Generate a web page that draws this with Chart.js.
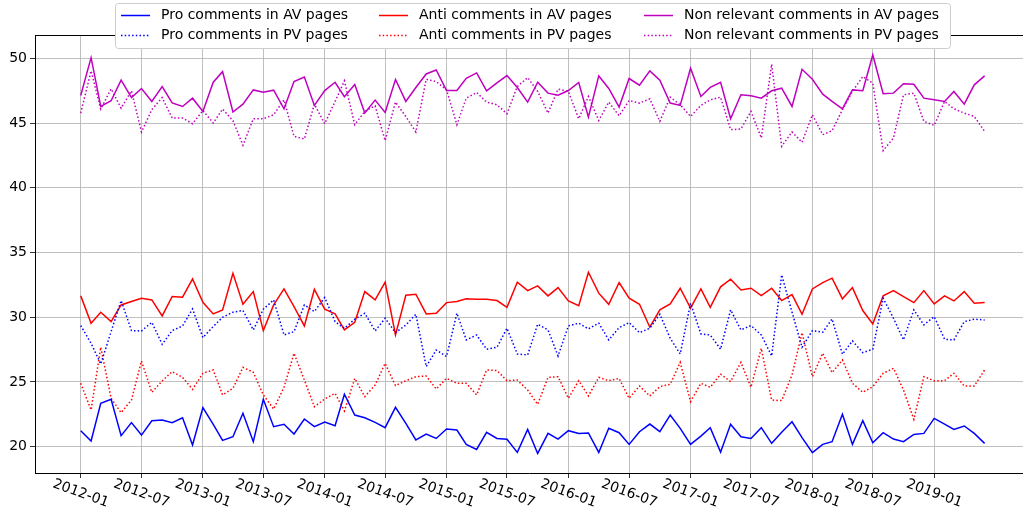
<!DOCTYPE html>
<html>
<head>
<meta charset="utf-8">
<script src="https://cdn.jsdelivr.net/npm/chart.js@4.4.1/dist/chart.umd.min.js"></script>
<style>
  html, body { margin: 0; padding: 0; background: #fff; }
  canvas { display: block; }
</style>
</head>
<body>
<canvas id="c" width="1023" height="518"></canvas>
<script>
// ---- categories ----
const startMonth = '2012-01';
const endMonth = '2019-06';
const xTickLabels = ['2012-01','2012-07','2013-01','2013-07','2014-01','2014-07','2015-01','2015-07',
  '2016-01','2016-07','2017-01','2017-07','2018-01','2018-07','2019-01'];
const yTickValues = [20, 25, 30, 35, 40, 45, 50];

// ---- series ----
const proAV = [21.24,20.44,23.35,23.66,20.85,21.86,20.9,22.01,22.06,21.86,22.24,20.13,23.02,21.73,20.49,20.77,22.58,20.39,23.66,21.55,
  21.73,20.98,22.14,21.55,21.91,21.62,24.05,22.45,22.24,21.88,21.47,23.04,21.8,20.52,20.98,20.64,21.37,21.29,20.18,19.79,
  21.11,20.64,20.57,19.56,21.34,19.48,21.03,20.59,21.24,21.03,21.06,19.56,21.42,21.08,20.18,21.16,21.75,21.16,22.45,21.42,
  20.18,20.82,21.47,19.58,21.73,20.77,20.64,21.47,20.26,21.11,21.93,20.7,19.54,20.18,20.39,22.5,20.18,22.01,20.31,21.08,
  20.59,20.39,20.95,21.03,22.19,21.75,21.34,21.6,21.03,20.26];
const proPV = [29.36,27.99,26.39,28.89,31.29,28.97,28.94,29.61,27.91,28.97,29.33,30.64,28.43,29.28,30.0,30.39,30.52,29.02,30.62,31.34,
  28.63,28.89,30.95,30.44,31.52,29.66,29.15,29.85,30.31,28.94,29.92,28.81,29.4,30.23,26.19,27.47,26.96,30.31,28.25,28.63,
  27.53,27.68,29.15,27.16,27.09,29.46,29.02,27.01,29.33,29.54,29.1,29.54,28.25,29.2,29.59,28.81,29.15,30.23,28.38,27.16,
  31.08,28.71,28.63,27.53,30.57,29.02,29.36,28.63,27.01,33.27,30.4,27.68,28.97,28.84,29.87,27.14,28.17,27.27,27.53,31.47,
  29.92,28.25,30.57,29.41,30.05,28.3,28.25,29.66,29.85,29.79];
const antiAV = [31.65,29.54,30.39,29.66,30.95,31.21,31.47,31.34,30.1,31.6,31.55,32.96,31.16,30.26,30.57,33.4,31.0,31.98,28.97,30.95,
  32.19,30.82,29.33,32.16,30.62,30.26,29.02,29.61,31.98,31.34,32.71,28.63,31.7,31.78,30.26,30.31,31.13,31.21,31.42,31.39,
  31.39,31.29,30.77,32.71,32.06,32.42,31.65,32.29,31.26,30.9,33.48,31.86,31.0,32.68,31.47,31.0,29.23,30.57,31.03,32.24,
  30.7,32.19,30.77,32.35,32.94,32.11,32.24,31.68,32.24,31.29,31.75,30.23,32.19,32.68,33.02,31.42,32.29,30.52,29.48,31.65,
  32.06,31.6,31.13,32.06,31.03,31.65,31.26,31.98,31.08,31.13];
const antiPV = [24.9,22.84,27.68,23.74,22.63,23.61,26.62,24.2,25.08,25.8,25.36,24.43,25.67,25.93,24.0,24.51,26.13,25.75,24.0,22.91,
  24.59,27.22,25.15,23.09,23.69,24.12,22.76,25.28,23.87,24.77,26.44,24.72,25.1,25.41,25.46,24.46,25.28,24.9,24.9,24.0,
  25.93,25.88,25.1,25.15,24.38,23.27,25.36,25.41,23.74,25.1,23.92,25.36,25.1,25.28,23.74,24.69,23.92,24.64,24.82,26.52,
  23.48,24.9,24.59,25.6,25.03,26.52,24.59,27.6,23.61,23.56,25.54,28.81,25.41,27.22,25.72,26.7,24.9,24.2,24.64,25.67,
  26.06,24.38,22.11,25.41,25.1,25.1,25.67,24.69,24.69,25.93];
const nonAV = [47.13,50.05,46.28,46.72,48.31,46.97,47.67,46.67,47.82,46.56,46.28,46.92,45.9,48.15,48.97,45.85,46.46,47.56,47.38,47.54,
  46.1,48.2,48.56,46.36,47.51,48.15,47.03,47.97,45.77,46.77,45.82,48.36,46.67,47.74,48.79,49.1,47.51,47.51,48.46,48.87,
  47.49,48.1,48.67,47.74,46.62,48.15,47.31,47.15,47.51,48.13,45.46,48.64,47.67,46.23,48.44,47.92,49.03,48.31,46.54,46.36,
  49.23,47.05,47.75,48.14,45.33,47.18,47.1,46.92,47.49,47.69,46.28,49.15,48.38,47.23,46.67,46.1,47.56,47.49,50.26,47.26,
  47.31,48.03,48.0,46.92,46.79,46.67,47.44,46.46,47.95,48.64];
const nonPV = [45.77,49.03,46.08,47.64,46.15,47.49,44.31,46.03,46.97,45.38,45.38,44.95,45.97,45.0,46.08,45.18,43.28,45.33,45.33,45.64,
  46.79,43.97,43.77,46.46,44.95,46.67,48.26,44.87,45.9,46.33,43.64,46.62,45.5,44.31,48.38,48.2,47.56,44.87,46.92,47.36,
  46.62,46.41,45.72,47.82,48.51,47.44,45.77,47.62,47.44,45.33,47.05,45.2,46.62,45.56,46.74,46.54,46.87,45.13,47.0,46.41,
  45.51,46.36,46.79,47.0,44.49,44.54,45.9,43.85,49.54,43.2,44.31,43.51,45.64,44.1,44.41,46.03,47.44,48.59,48.08,42.87,
  43.85,47.18,47.31,45.13,44.82,46.67,46.1,45.77,45.51,44.36];

// ---- helpers ----
function monthList(a, b) {
  const out = [];
  let [y, m] = a.split('-').map(Number);
  const [ye, me] = b.split('-').map(Number);
  while (y < ye || (y === ye && m <= me)) {
    out.push(y + '-' + String(m).padStart(2, '0'));
    m++; if (m > 12) { m = 1; y++; }
  }
  return out;
}
const months = monthList(startMonth, endMonth);
const base = Date.UTC(2012, 0, 1);
function dayOf(s) {
  const [y, m] = s.split('-').map(Number);
  return (Date.UTC(y, m - 1, 1) - base) / 86400000;
}
function pts(arr) { return months.map((m, i) => ({ x: dayOf(m), y: arr[i] })); }

const FONT = '"DejaVu Sans", "Liberation Sans", sans-serif';
const BLUE = '#0000ff', RED = '#ff0000', MAG = '#bf00bf';
const DOT = [1.5, 2.2];

const datasets = [
  { label: 'Pro comments in AV pages', data: pts(proAV), borderColor: BLUE, borderDash: [] },
  { label: 'Pro comments in PV pages', data: pts(proPV), borderColor: BLUE, borderDash: DOT },
  { label: 'Anti comments in AV pages', data: pts(antiAV), borderColor: RED, borderDash: [] },
  { label: 'Anti comments in PV pages', data: pts(antiPV), borderColor: RED, borderDash: DOT },
  { label: 'Non relevant comments in AV pages', data: pts(nonAV), borderColor: MAG, borderDash: [] },
  { label: 'Non relevant comments in PV pages', data: pts(nonPV), borderColor: MAG, borderDash: DOT },
].map(d => Object.assign(d, { borderWidth: 1.5, pointRadius: 0, tension: 0, fill: false }));

const decor = {
  id: 'decor',
  afterDatasetsDraw(chart) {
    const ctx = chart.ctx, a = chart.chartArea;
    ctx.save();
    ctx.strokeStyle = '#000';
    ctx.lineWidth = 1;
    ctx.beginPath();
    ctx.moveTo(a.left, a.top + 0.5);
    ctx.lineTo(a.right, a.top + 0.5);
    ctx.stroke();
    ctx.restore();
  },
  afterDraw(chart) {
    const ctx = chart.ctx, a = chart.chartArea;
    const xs = chart.scales.x;
    ctx.save();
    // rotated x tick labels (clockwise)
    ctx.font = '14px ' + FONT;
    ctx.fillStyle = '#000';
    ctx.textAlign = 'center';
    ctx.textBaseline = 'middle';
    xTickLabels.forEach(l => {
      const px = xs.getPixelForValue(dayOf(l));
      ctx.save();
      ctx.translate(px, a.bottom + 20.5);
      ctx.rotate(20 * Math.PI / 180);
      ctx.fillText(l, 0, 0);
      ctx.restore();
    });
    // legend
    const bx = 115.5, by = 3.5, bw = 835, bh = 45;
    ctx.beginPath();
    ctx.roundRect(bx, by, bw, bh, 3);
    ctx.fillStyle = '#ffffff';
    ctx.fill();
    ctx.strokeStyle = '#cccccc';
    ctx.lineWidth = 1;
    ctx.stroke();
    const colX = [121, 379, 644];
    const rowY = [15.5, 35.5];
    ctx.textAlign = 'left';
    ctx.textBaseline = 'middle';
    chart.data.datasets.forEach((d, i) => {
      const c = Math.floor(i / 2), r = i % 2;
      const x0 = colX[c], y0 = rowY[r];
      ctx.save();
      ctx.strokeStyle = d.borderColor;
      ctx.lineWidth = d.borderWidth;
      ctx.setLineDash(d.borderDash);
      ctx.beginPath();
      ctx.moveTo(x0, y0);
      ctx.lineTo(x0 + 29, y0);
      ctx.stroke();
      ctx.restore();
      ctx.fillStyle = '#000';
      ctx.fillText(d.label, x0 + 40, y0);
    });
    ctx.restore();
  }
};

new Chart(document.getElementById('c'), {
  type: 'line',
  data: { datasets },
  plugins: [decor],
  options: {
    responsive: false,
    animation: false,
    events: [],
    layout: { padding: { top: 35, left: 0, right: 0, bottom: 0 } },
    plugins: { legend: { display: false }, tooltip: { enabled: false } },
    scales: {
      x: {
        type: 'linear',
        min: -137,
        max: 2823,
        afterBuildTicks(s) { s.ticks = xTickLabels.map(l => ({ value: dayOf(l) })); },
        afterFit(s) { s.height = 45; },
        ticks: { display: false },
        grid: { color: '#b0b0b0', lineWidth: 0.8, tickColor: '#000', tickLength: 5, drawTicks: true },
        border: { display: true, color: '#000', width: 1 }
      },
      y: {
        type: 'linear',
        min: 17.97,
        max: 51.8,
        afterBuildTicks(s) { s.ticks = yTickValues.map(v => ({ value: v })); },
        afterFit(s) { s.width = 35; },
        ticks: { color: '#000', font: { family: FONT, size: 14 }, padding: 3 },
        grid: { color: '#b0b0b0', lineWidth: 0.8, tickColor: '#000', tickLength: 5, drawTicks: true },
        border: { display: true, color: '#000', width: 1 }
      }
    }
  }
});
</script>
</body>
</html>
